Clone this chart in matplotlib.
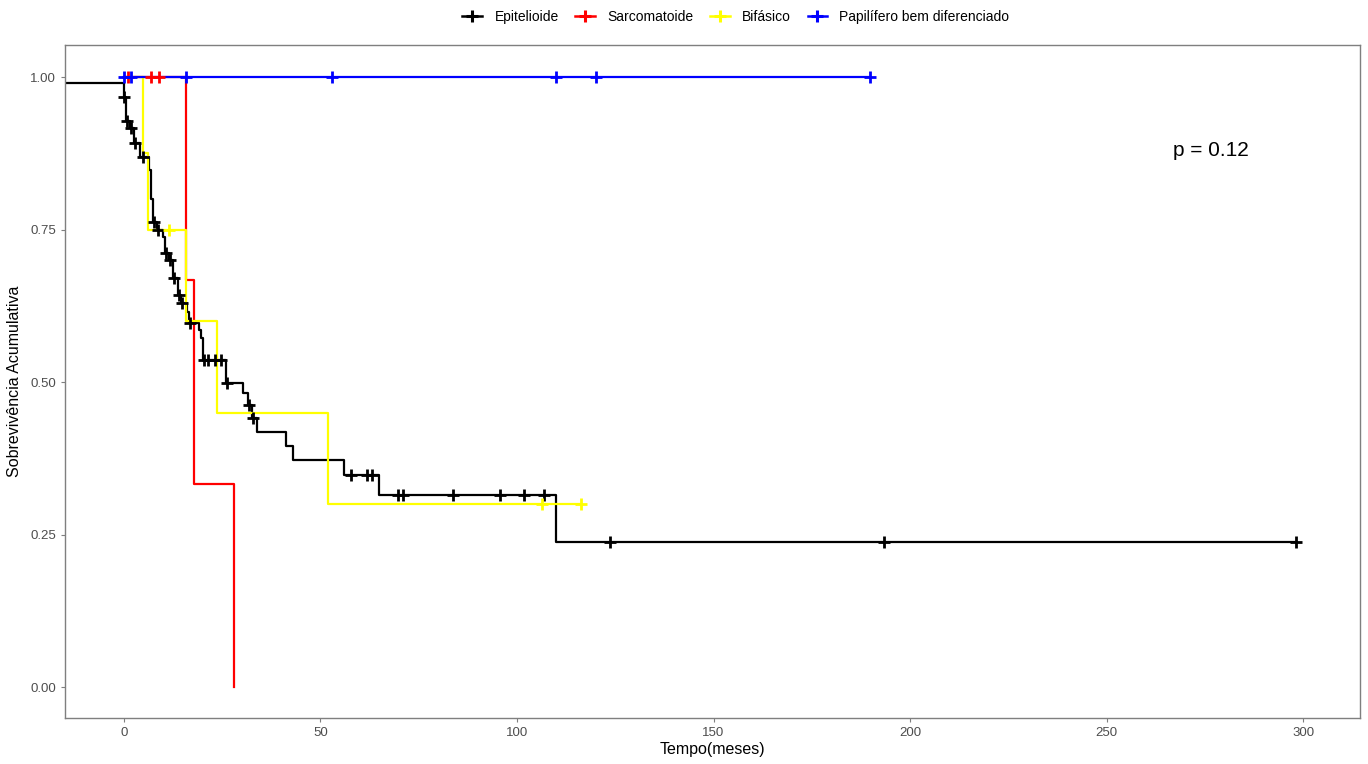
import numpy as np
from matplotlib import pyplot as plt

plt.rcParams['font.family'] = ['Liberation Sans', 'DejaVu Sans']

# Kaplan-Meier steps (time in months, survival after step)
epi_time = [-15, 0, 0.5, 1.5, 2.5, 4.0, 6.4, 7.0, 7.5, 8.4, 10.0, 10.5, 11.5, 12.5, 13.8, 14.5,
            16.0, 16.5, 19.1, 19.6, 20.1, 25.9, 30.3, 31.6, 32.6, 33.8, 41.2, 43.0, 55.9, 64.8, 109.8]
epi_surv = [0.99, 0.967, 0.928, 0.916, 0.892, 0.869, 0.848, 0.800, 0.762, 0.749, 0.738, 0.711, 0.700,
            0.670, 0.643, 0.630, 0.615, 0.597, 0.585, 0.572, 0.536, 0.498, 0.482, 0.462, 0.441, 0.418,
            0.395, 0.372, 0.348, 0.316, 0.238]
epi_cens = [0, 0.8, 1.8, 2.8, 4.8, 7.6, 8.6, 10.8, 11.7, 12.7, 14.0, 14.7, 16.8, 20.3, 21.4, 23.1,
            24.7, 26.2, 31.8, 32.8, 57.7, 61.8, 63.1, 69.7, 70.9, 83.7, 95.6, 101.7, 106.8, 123.6,
            193.5, 298.2]

sar_time = [0, 15.8, 17.9, 28.0]
sar_surv = [1.0, 0.667, 0.333, 0.0]
sar_cens = [1.0, 6.9, 8.9]

bif_time = [0, 4.8, 6.1, 15.8, 23.8, 52.0]
bif_surv = [1.0, 0.875, 0.75, 0.60, 0.45, 0.30]
bif_cens = [11.4, 106.3, 116.4]

pap_time = [0]
pap_surv = [1.0]
pap_cens = [0, 1.7, 15.8, 52.9, 109.8, 120.0, 189.7]

groups = [
    ('Epitelioide', epi_time, epi_surv, epi_cens, '#000000'),
    ('Sarcomatoide', sar_time, sar_surv, sar_cens, '#FF0000'),
    ('Bif\u00e1sico', bif_time, bif_surv, bif_cens, '#FFFF00'),
    ('Papil\u00edfero bem diferenciado', pap_time, pap_surv, pap_cens, '#0000FF'),
]

fig = plt.figure(figsize=(13.68, 7.64), dpi=100)
ax = fig.add_axes([0.0475, 0.0602, 0.9467, 0.8809])

handles = []
for name, t, s, c, col in groups:
    t = np.array(t, dtype=float)
    s = np.array(s, dtype=float)
    c = np.array(c, dtype=float)
    end = max(t[-1], c.max())
    xs = np.append(t, end)
    ys = np.append(s, s[-1])
    ax.plot(xs, ys, drawstyle='steps-post', color=col, lw=1.6, zorder=2)
    cy = s[np.searchsorted(t, c, side='right') - 1]
    ax.plot(c, cy, ls='none', marker='+', ms=9, mew=2.0, color=col, zorder=3)
    h, = ax.plot([], [], color=col, lw=1.8, marker='+', ms=9, mew=2.2)
    handles.append(h)

ax.text(276.6, 0.88, 'p = 0.12', fontsize=15, ha='center', va='center')

ax.set_xlim(-15, 314.5)
ax.set_ylim(-0.05, 1.0525)
ax.set_xticks(np.arange(0, 301, 50))
ax.set_yticks([0, 0.25, 0.5, 0.75, 1.0])
ax.set_yticklabels(['%.2f' % v for v in [0, 0.25, 0.5, 0.75, 1.0]])
ax.tick_params(colors='#7f7f7f', labelcolor='#4d4d4d', labelsize=9.5, length=3, width=0.8)
for sp in ax.spines.values():
    sp.set_color('#7f7f7f')
    sp.set_linewidth(1.0)

ax.set_xlabel('Tempo(meses)', fontsize=11.5, labelpad=2)
ax.set_ylabel('Sobreviv\u00eancia Acumulativa', fontsize=11.5, labelpad=6)

fig.legend(handles, [g[0] for g in groups], loc='center', bbox_to_anchor=(0.538, 0.978),
           ncol=4, frameon=False, fontsize=10, handlelength=1.4, handletextpad=0.9,
           columnspacing=1.2)

fig.savefig('out.png', dpi=100)
